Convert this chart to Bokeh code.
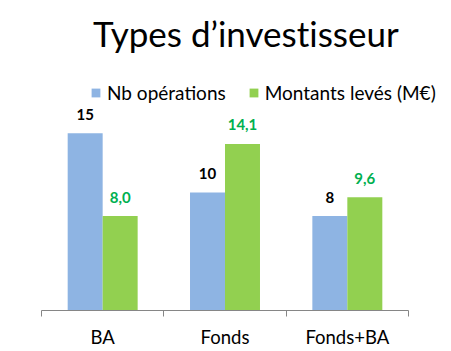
from bokeh.plotting import figure
from bokeh.layouts import column
from bokeh.models import (ColumnDataSource, Range1d, FixedTicker, LabelSet, Legend,
                          LegendItem, Div)
from bokeh.core.properties import value
from bokeh.transform import dodge
from bokeh.embed import file_html
from bokeh.resources import INLINE

title_text = "Types d\u2019investisseur"
categories = ["BA", "Fonds", "Fonds+BA"]
nb_operations = [15, 10, 8]
montants = [8.0, 14.1, 9.6]
nb_labels = ["15", "10", "8"]
montant_labels = ["8,0", "14,1", "9,6"]

FONT = "Lato"
BLUE = "#8EB4E3"
GREEN = "#92D050"
GREEN_TXT = "#00B050"
GREY = "#868686"

n = len(categories)
centers = [i + 0.5 for i in range(n)]
src = ColumnDataSource(dict(x=centers, nb=nb_operations, mt=montants,
                            nb_lbl=nb_labels, mt_lbl=montant_labels))

title = Div(text=('<div style="font-family:Lato;font-size:35px;line-height:42px;'
                  'padding-top:12px;margin-left:93px;text-align:left;color:#000000;'
                  'font-variant-ligatures:none;white-space:nowrap;">'
                  + title_text + '</div>'),
            width=451, height=60, margin=0)

# frame 400 px wide, each category 122.3 px -> the range extends a bit past the last category
x_end = n * 400 / 367.0
p = figure(width=451, height=291, output_backend="svg", toolbar_location=None,
           x_range=Range1d(0, x_end), y_range=Range1d(0, 19.9),
           min_border_left=41, min_border_right=10, min_border_top=15,
           min_border_bottom=41, margin=0)
p.title = None

w = 0.286
rb = p.vbar(x=dodge("x", -w / 2, range=p.x_range), top="nb", width=w, source=src,
            fill_color=BLUE, line_color=None)
rg = p.vbar(x=dodge("x", w / 2, range=p.x_range), top="mt", width=w, source=src,
            fill_color=GREEN, line_color=None)

lb = LabelSet(x=dodge("x", -w / 2, range=p.x_range), y="nb", text="nb_lbl", source=src,
              text_align="center", text_baseline="middle", y_offset=19,
              text_font=value(FONT), text_font_size=value("15px"),
              text_font_style=value("bold"), text_color=value("#000000"))
lg = LabelSet(x=dodge("x", w / 2, range=p.x_range), y="mt", text="mt_lbl", source=src,
              text_align="center", text_baseline="middle", y_offset=19,
              text_font=value(FONT), text_font_size=value("15px"),
              text_font_style=value("bold"), text_color=value(GREEN_TXT))
p.add_layout(lb)
p.add_layout(lg)

legend = Legend(items=[LegendItem(label="Nb op\u00e9rations", renderers=[rb]),
                       LegendItem(label="Montants lev\u00e9s (M\u20ac)", renderers=[rg])],
                orientation="horizontal", location=(49, 206), padding=0, margin=0,
                spacing=22, glyph_width=11, glyph_height=11, label_standoff=6,
                label_height=20, label_text_font=FONT, label_text_font_size="19px",
                label_text_color="#000000", border_line_color=None,
                background_fill_alpha=0)
p.add_layout(legend)

xa = p.xaxis[0]
xa.bounds = (0, n)
xa.ticker = FixedTicker(ticks=centers, minor_ticks=list(range(n + 1)))
xa.major_label_overrides = {c: name for c, name in zip(centers, categories)}
xa.major_tick_line_color = None
xa.major_tick_out = 0
xa.major_tick_in = 0
xa.minor_tick_out = 6
xa.minor_tick_in = 0
xa.minor_tick_line_color = GREY
xa.axis_line_color = GREY
xa.major_label_standoff = 9
xa.major_label_text_font = FONT
xa.major_label_text_font_size = "18.5px"
xa.major_label_text_color = "#000000"

p.yaxis.visible = False
p.xgrid.visible = False
p.ygrid.visible = False
p.outline_line_color = None

layout = column(title, p, spacing=0, margin=0)
open("out.html", "w").write(file_html(layout, INLINE))
